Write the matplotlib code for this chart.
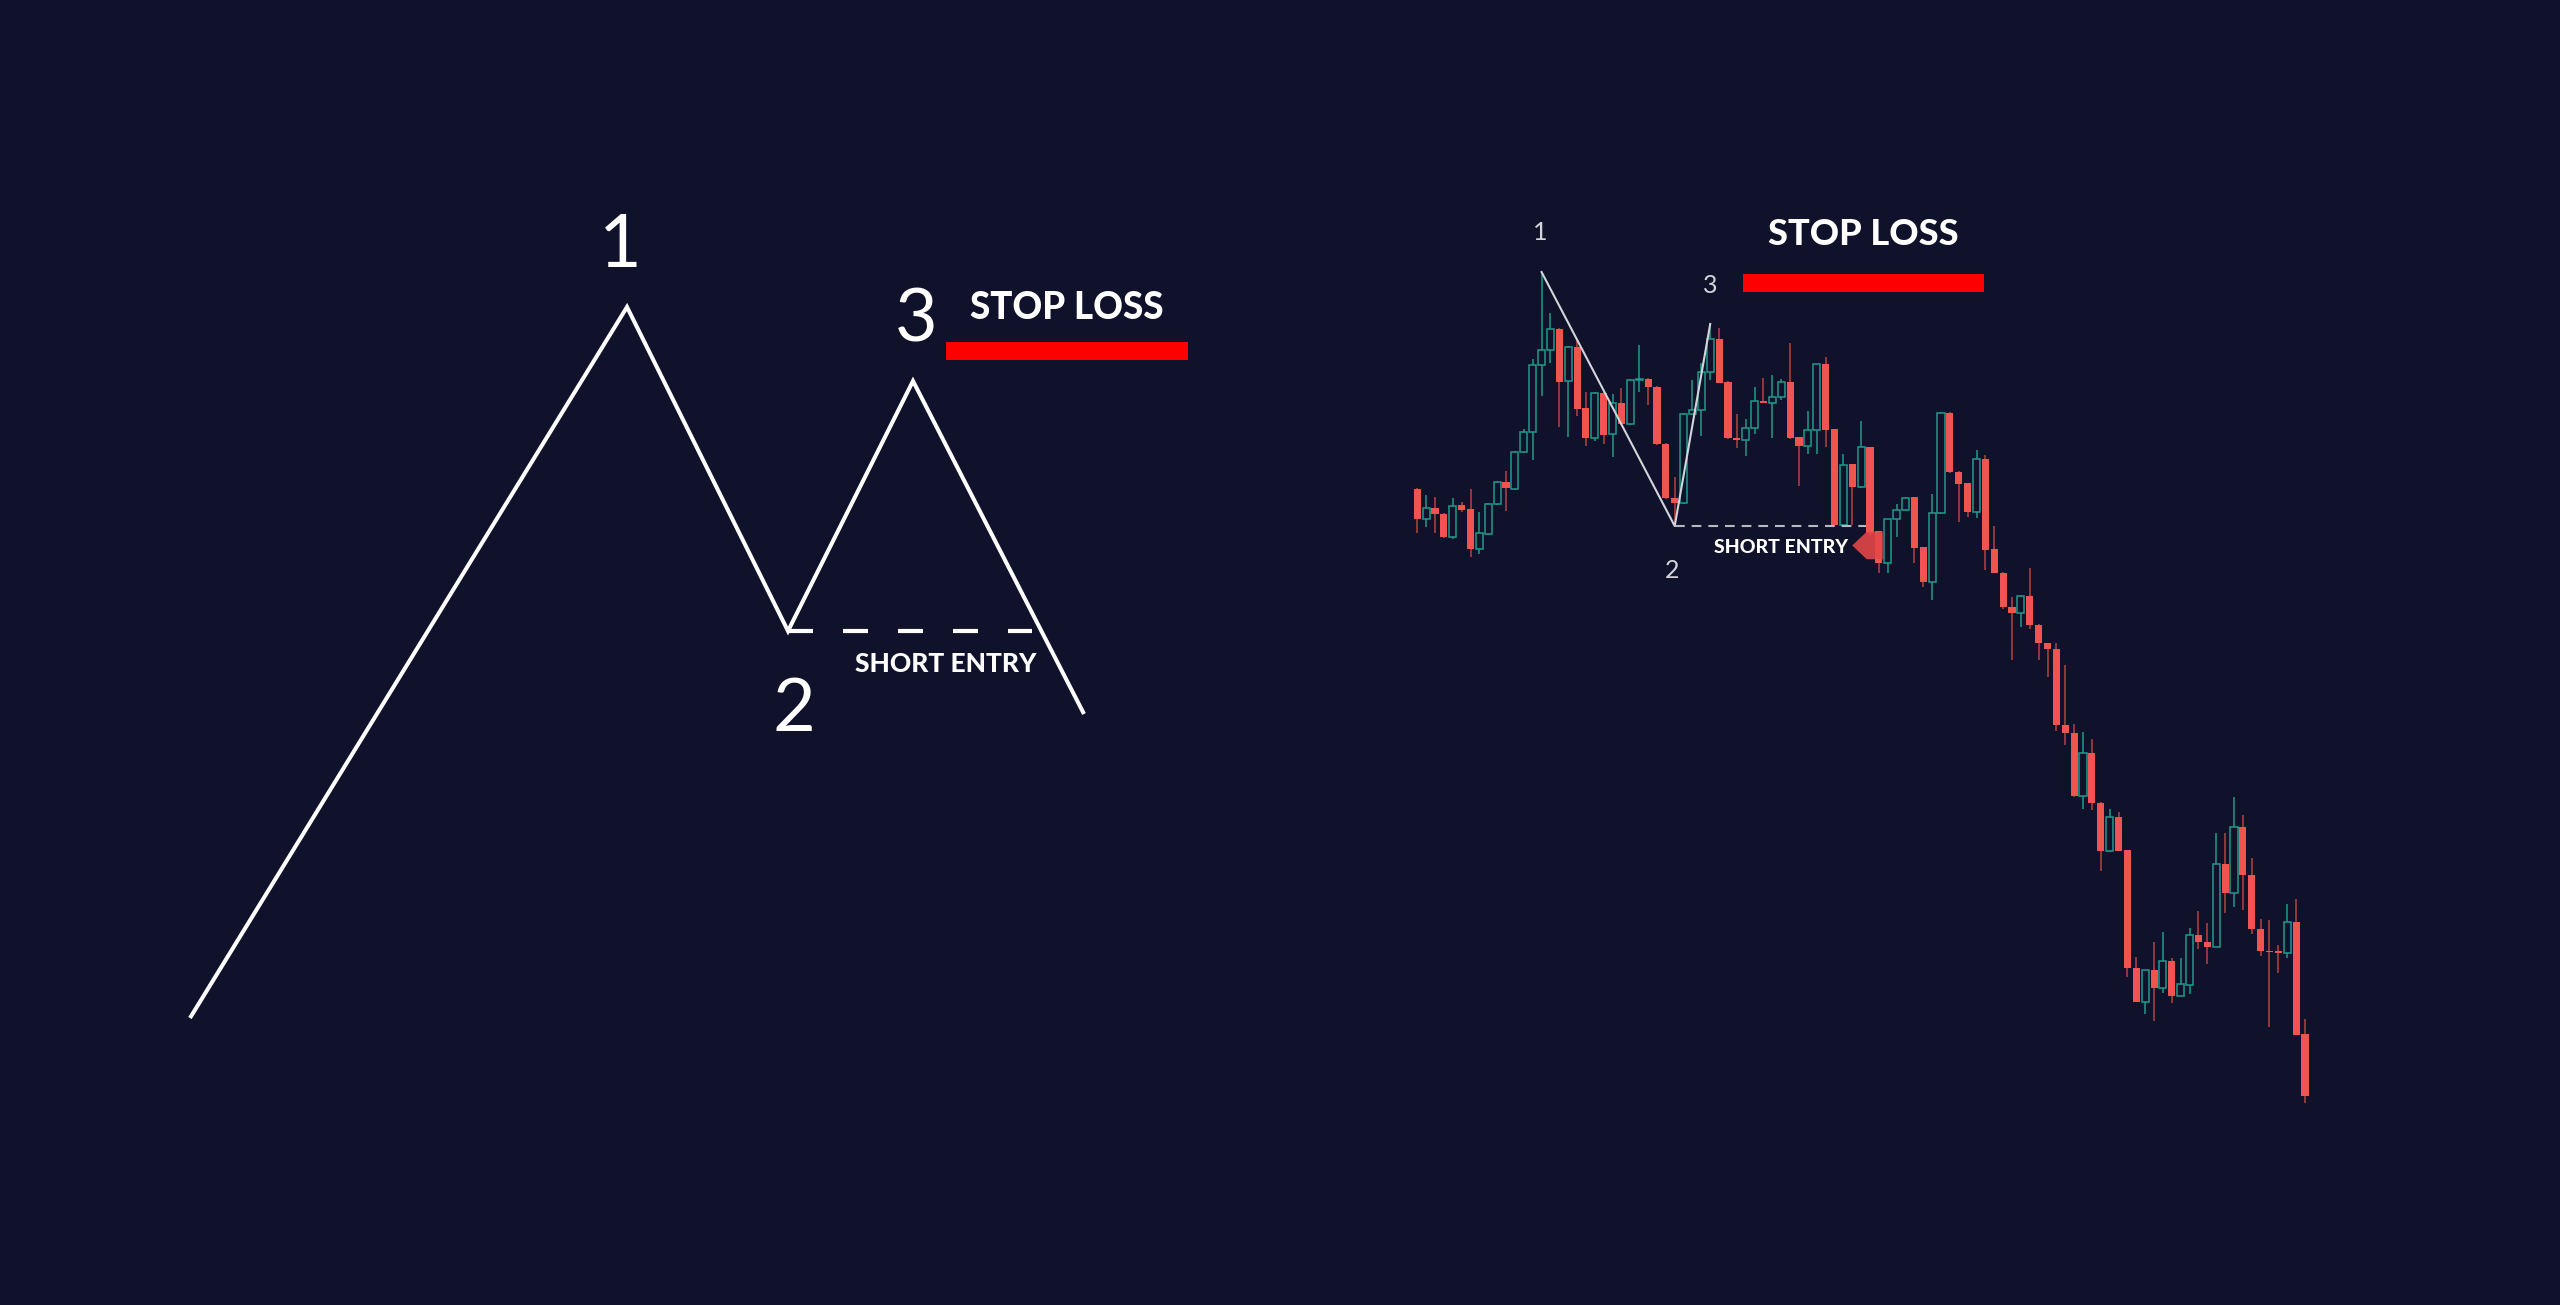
import matplotlib
matplotlib.use('Agg')
import matplotlib.pyplot as plt
from matplotlib.patches import Rectangle

plt.rcParams['lines.scale_dashes'] = False

BG = '#10122b'
RED = '#f05450'
RED_WICK = '#b8403e'
TEAL = '#1f9a8c'
WHITE = '#ffffff'
GREY = '#d4d4da'
STOP_RED = '#ff0000'

# ---------------- left: schematic pattern ----------------
pattern_time = [0, 437, 598, 723, 894]
pattern_price = [0, 711, 387, 637, 304]
pattern_labels = ['1', '2', '3']
schematic_entry = 387
schematic_stop = 667

# ---------------- right: candlestick data ----------------
opens = [711, 681, 692, 686, 663, 695, 691, 651, 666, 696,
         718, 711, 748, 768, 835, 850, 871, 819, 853, 792,
         762, 807, 766, 797, 776, 820, 821, 813, 756, 702,
         697, 786, 790, 828, 861, 818, 762, 760, 772, 799,
         797, 803, 818, 763, 754, 770, 836, 771, 675, 736,
         713, 753, 669, 637, 681, 690, 703, 653, 618, 687,
         787, 728, 717, 688, 741, 651, 627, 593, 587, 604,
         575, 557, 551, 475, 467, 404, 447, 397, 349, 383,
         350, 232, 198, 230, 212, 239, 204, 215, 265, 258,
         253, 336, 307, 373, 325, 271, 249, 249, 247, 278,
         166]
highs = [712, 705, 703, 687, 702, 698, 711, 688, 697, 719,
         729, 749, 771, 841, 928, 887, 872, 854, 860, 808,
         808, 808, 806, 812, 821, 855, 822, 814, 757, 723,
         787, 820, 837, 875, 872, 819, 786, 781, 813, 822,
         825, 821, 857, 763, 789, 836, 843, 771, 746, 736,
         779, 753, 669, 681, 696, 703, 703, 653, 706, 788,
         788, 729, 717, 750, 745, 674, 628, 603, 605, 632,
         576, 557, 557, 535, 476, 468, 461, 398, 391, 388,
         350, 243, 230, 258, 268, 242, 242, 272, 289, 277,
         367, 367, 403, 385, 342, 281, 280, 255, 296, 301,
         181]
lows = [667, 673, 667, 662, 661, 688, 643, 646, 665, 695,
        689, 710, 747, 740, 804, 837, 773, 763, 784, 754,
        759, 756, 743, 775, 775, 808, 795, 755, 701, 678,
        696, 785, 764, 820, 817, 761, 752, 744, 766, 797,
        762, 800, 761, 714, 746, 746, 753, 674, 674, 675,
        712, 665, 627, 627, 663, 689, 637, 613, 600, 686,
        727, 678, 683, 682, 630, 627, 591, 540, 573, 571,
        540, 523, 469, 455, 403, 391, 390, 329, 348, 349,
        223, 198, 186, 179, 207, 197, 204, 206, 251, 236,
        253, 287, 293, 290, 266, 244, 173, 227, 242, 165,
        97]
closes = [681, 692, 686, 663, 694, 690, 651, 667, 696, 718,
          712, 748, 768, 835, 850, 871, 818, 853, 791, 762,
          807, 765, 797, 776, 820, 821, 813, 756, 702, 697,
          786, 790, 828, 861, 817, 762, 760, 772, 799, 797,
          803, 818, 762, 754, 770, 836, 770, 675, 735, 713,
          753, 667, 637, 681, 690, 702, 652, 618, 687, 787,
          728, 716, 688, 741, 650, 627, 593, 587, 604, 575,
          557, 551, 475, 467, 404, 447, 397, 349, 383, 349,
          232, 198, 230, 212, 239, 204, 216, 265, 258, 253,
          336, 307, 373, 325, 271, 249, 248, 247, 278, 165,
          104]

# swing points drawn over the candles (bar index, price)
swing_index = [14, 29, 33]
swing_price = [928, 674, 876]
entry_price = 674
entry_end_index = 50.6
stop_loss_price = 917

fig = plt.figure(figsize=(25.6, 13.05), dpi=100, facecolor=BG)

# ---- left schematic axes ----
ax1 = fig.add_axes([0, 0, 1, 1])
ax1.set_xlim(-190, 2370)
ax1.set_ylim(-287, 1018)
ax1.axis('off')
ax1.patch.set_alpha(0)

ax1.plot(pattern_time, pattern_price, color=WHITE, lw=2.9,
         solid_joinstyle='miter', solid_capstyle='butt', zorder=3)
ax1.plot([pattern_time[2], 842], [schematic_entry, schematic_entry],
         color=WHITE, lw=3.0, linestyle=(0, (18, 21.6)), dash_capstyle='butt', zorder=3)
ax1.add_patch(Rectangle((756, schematic_stop - 9), 242, 18,
                        facecolor=STOP_RED, edgecolor='none', zorder=3))

num_font = dict(family=['Lato', 'DejaVu Sans'], color=WHITE, ha='center', va='baseline')
ax1.text(430, 751, pattern_labels[0], fontsize=53, **num_font)
ax1.text(604, 287, pattern_labels[1], fontsize=53, **num_font)
ax1.text(726, 677, pattern_labels[2], fontsize=53, **num_font)

bold_font = dict(family=['Lato', 'DejaVu Sans'], fontweight='black', color=WHITE,
                 ha='center', va='baseline')
ax1.text(877, 699, 'STOP LOSS', fontsize=26.5, **bold_font)
ax1.text(756, 346, 'SHORT ENTRY', fontsize=19, **bold_font)

# ---- right candlestick axes ----
ax2 = fig.add_axes([0, 0, 1, 1])
ax2.set_xlim(-159.66, 128.73)
ax2.set_ylim(-105, 1200)
ax2.axis('off')
ax2.patch.set_alpha(0)

w = 0.8
for i, (o, h, l, c) in enumerate(zip(opens, highs, lows, closes)):
    up = c >= o
    wick_col = TEAL if up else RED_WICK
    ax2.plot([i, i], [l, h], color=wick_col, lw=1.1, solid_capstyle='butt', zorder=2)
    bottom = min(o, c)
    height = max(abs(c - o), 1.5)
    if up:
        ax2.add_patch(Rectangle((i - w / 2, bottom), w, height, facecolor=BG,
                                edgecolor=TEAL, lw=1.1, zorder=3))
    else:
        ax2.add_patch(Rectangle((i - w / 2, bottom), w, height, facecolor=RED,
                                edgecolor='none', zorder=3))

ax2.plot(swing_index, swing_price, color=GREY, lw=1.5, zorder=4)
ax2.plot([swing_index[1], entry_end_index], [entry_price, entry_price], color='#b8b8c0',
         lw=1.5, linestyle=(0, (7, 5)), zorder=4)
ax2.add_patch(Rectangle((36.66, stop_loss_price - 8.8), 27.2, 17.7,
                        facecolor=STOP_RED, edgecolor='none', zorder=4))
tag_marker = [(-1, 0), (-0.05, 0.9), (1, 0.9), (1, -0.9), (-0.05, -0.9), (-1, 0)]
ax2.plot([50.7], [entry_price - 19], marker=tag_marker, markersize=22, color='#e84848',
         alpha=0.88, markeredgewidth=0, zorder=5)

small_num = dict(family=['Lato', 'DejaVu Sans'], color=GREY, ha='center', va='baseline',
                 fontsize=18)
ax2.text(13.8, 960, '1', **small_num)
ax2.text(28.7, 622, '2', **small_num)
ax2.text(33.0, 907, '3', **small_num)
ax2.text(50.2, 955, 'STOP LOSS', fontsize=26, **bold_font)
ax2.text(41.0, 647, 'SHORT ENTRY', fontsize=14, **bold_font)

fig.savefig('out.png', dpi=100, facecolor=BG)
